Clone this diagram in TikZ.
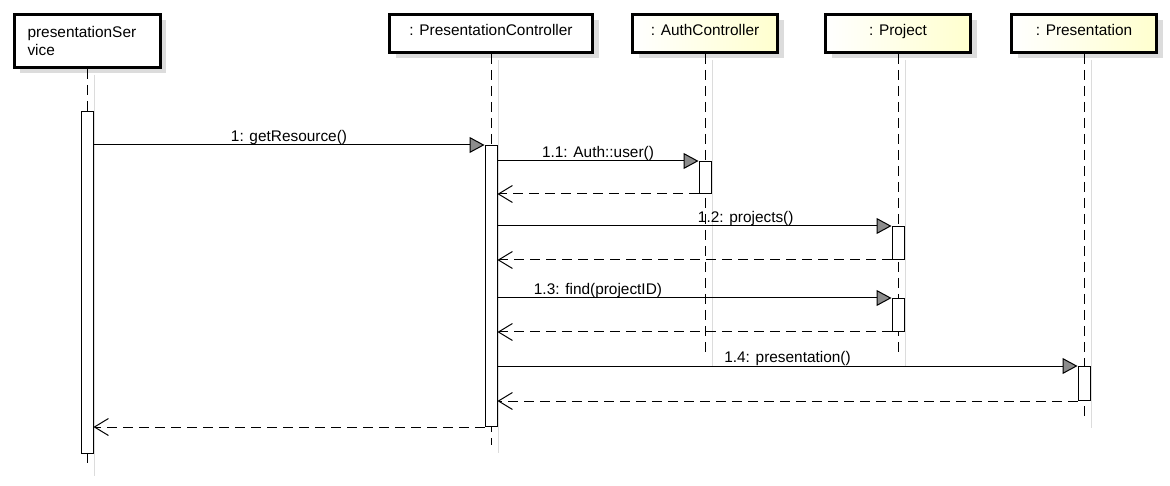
\documentclass[tikz,border=0pt]{standalone}
\usepackage{fontspec}
\setmainfont{Liberation Sans}
\usetikzlibrary{arrows.meta,shadows}
\definecolor{objyellow}{RGB}{255,255,206}
\definecolor{shadowgray}{RGB}{220,220,220}

\begin{document}
\begin{tikzpicture}[x=1pt, y=-1pt,
    font=\fontsize{15.4}{18}\selectfont,
    head/.style={draw, line width=3pt, fill=white, inner sep=0pt,
      drop shadow={shadow xshift=6pt, shadow yshift=-6pt, fill=shadowgray, opacity=1}},
    obj/.style={head, minimum width=145, minimum height=38, text height=11pt, text depth=6pt},
    yel/.style={left color=white, right color=objyellow},
    act/.style={draw, line width=1pt, fill=white, minimum width=12, minimum height=#1,
      inner sep=0pt, anchor=north},
    lifeline/.style={line width=1pt, dash pattern=on 10pt off 6pt},
    lifeshade/.style={line width=1pt, shadowgray},
    call/.style={line width=1pt, -{Triangle[length=15pt, width=16pt, fill=black!45]}},
    reply/.style={line width=1pt, dash pattern=on 10pt off 6pt,
      -{Straight Barb[length=14pt, width=17pt]}},
    msg/.style={anchor=base, yshift=3.5pt, inner sep=0pt}]
  \useasboundingbox (0,0) rectangle (1170,486);

  % objects
  \node[head, minimum height=53, text width=119, inner xsep=13.5, align=left] (ps) at (87,41)
    {presentationSer\\vice};
  \node[obj, minimum width=203] (pc) at (491,33.5) {: PresentationController};
  \node[obj, yel] (ac) at (705,33.5) {: AuthController};
  \node[obj, yel] (pj) at (898,33.5) {: Project};
  \node[obj, yel] (pn) at (1084,33.5) {: Presentation};

  % lifelines
  \foreach \n/\e in {ps/468, pc/445, ac/358, pj/358, pn/420}{
    \path (\n.south |- 0,\e) coordinate (\n-end);
    \draw[lifeshade] ([shift={(7,6)}]\n.south) -- ([shift={(7,8)}]\n-end);
    \draw[lifeline] (\n.south) -- (\n-end);
  }

  % activations
  \node[act=342] (actPS) at (87,111) {};
  \node[act=281] (actPC) at (491,145) {};
  \node[act=32] (actAC) at (705,161) {};
  \node[act=33] (actPJa) at (898,226) {};
  \node[act=33] (actPJb) at (898,298) {};
  \node[act=34] (actPN) at (1084,366) {};

  % messages
  \draw[call] (actPS.east |- actPC.north) -- node[msg] {1: getResource()} (actPC.north west);
  \draw[call] (actPC.east |- actAC.north) -- node[msg] {1.1: Auth::user()} (actAC.north west);
  \draw[reply] (actAC.south west) -- (actPC.east |- actAC.south);
  \draw[call] (actPC.east |- actPJa.north) -- node[msg, pos=.63] {1.2: projects()} (actPJa.north west);
  \draw[reply] (actPJa.south west) -- (actPC.east |- actPJa.south);
  \draw[call] (actPC.east |- actPJb.north) -- node[msg, pos=.255] {1.3: find(projectID)} (actPJb.north west);
  \draw[reply] (actPJb.south west) -- (actPC.east |- actPJb.south);
  \draw[call] (actPC.east |- actPN.north) -- node[msg] {1.4: presentation()} (actPN.north west);
  \draw[reply] (actPN.south west) -- (actPC.east |- actPN.south);
  \draw[reply] (actPC.south west) -- (actPS.east |- actPC.south);
\end{tikzpicture}
\end{document}
